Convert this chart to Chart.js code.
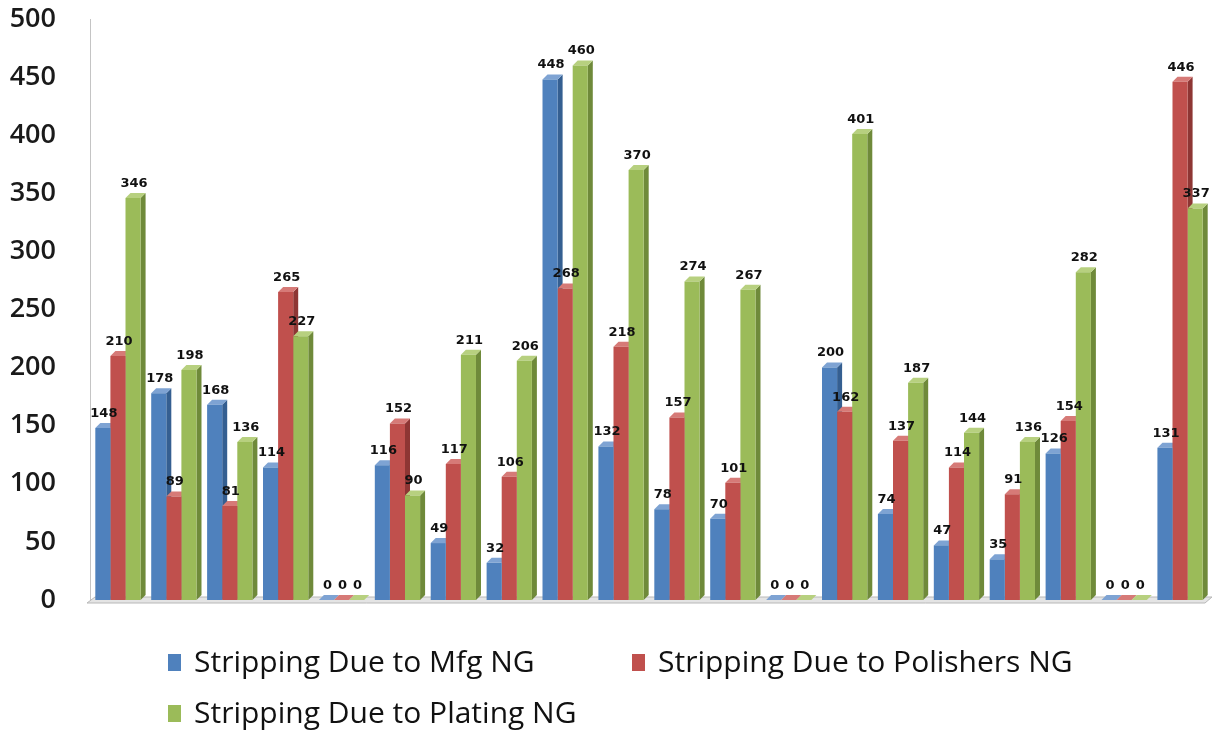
<!DOCTYPE html>
<html>
<head>
<meta charset="utf-8">
<script src="https://cdn.jsdelivr.net/npm/chart.js@4.4.1/dist/chart.umd.min.js"></script>
<style>
html, body { margin: 0; padding: 0; background: #fff; }
#wrap { width: 1216px; height: 733px; }
</style>
</head>
<body>
<div id="wrap"><canvas id="chart"></canvas></div>
<script>
// groups have no names on the axis, just numbered
var groups = ["1", "2", "3", "4", "5", "6", "7", "8", "9", "10",
              "11", "12", "13", "14", "15", "16", "17", "18", "19", "20"];
var mfgNG       = [148, 178, 168, 114, 0, 116, 49, 32, 448, 132, 78, 70, 0, 200, 74, 47, 35, 126, 0, 131];
var polishersNG = [210, 89, 81, 265, 0, 152, 117, 106, 268, 218, 157, 101, 0, 162, 137, 114, 91, 154, 0, 446];
var platingNG   = [346, 198, 136, 227, 0, 90, 211, 206, 460, 370, 274, 267, 0, 401, 187, 144, 136, 282, 0, 337];
var seriesNames = ["Stripping Due to Mfg NG", "Stripping Due to Polishers NG", "Stripping Due to Plating NG"];
var yMax = 500;
var yStep = 50;

var DEPTH = 5;

function poly(ctx, pts) {
    ctx.beginPath();
    ctx.moveTo(pts[0][0], pts[0][1]);
    for (var i = 1; i < pts.length; i++) {
        ctx.lineTo(pts[i][0], pts[i][1]);
    }
    ctx.closePath();
    ctx.fill();
}

// fake 3d: side and top faces go in first, the bar fronts cover them
var bars3d = {
    id: 'bars3d',
    beforeDatasetsDraw: function (chart) {
        var ctx = chart.ctx;
        var a = chart.chartArea;
        ctx.save();
        // floor
        ctx.fillStyle = "#e4e4e4";
        ctx.strokeStyle = "#b8b8b8";
        ctx.lineWidth = 1;
        ctx.beginPath();
        ctx.moveTo(a.left - 3, a.bottom + 3);
        ctx.lineTo(a.left + DEPTH, a.bottom - DEPTH + 2);
        ctx.lineTo(a.right + 4, a.bottom - DEPTH + 2);
        ctx.lineTo(a.right - 3, a.bottom + 3);
        ctx.closePath();
        ctx.fill();
        ctx.stroke();

        chart.data.datasets.forEach(function (ds, i) {
            var meta = chart.getDatasetMeta(i);
            meta.data.forEach(function (bar) {
                var p = bar.getProps(['x', 'y', 'base', 'width'], true);
                var l = p.x - p.width / 2, r = p.x + p.width / 2;
                ctx.fillStyle = ds.sideColor;
                poly(ctx, [[r, p.y], [r + DEPTH, p.y - DEPTH], [r + DEPTH, p.base - DEPTH], [r, p.base]]);
                ctx.fillStyle = ds.topColor;
                poly(ctx, [[l, p.y], [l + DEPTH, p.y - DEPTH], [r + DEPTH, p.y - DEPTH], [r, p.y]]);
            });
        });
        ctx.restore();
    },
    afterDatasetsDraw: function (chart) {
        var ctx = chart.ctx;
        ctx.save();
        ctx.font = "bold 13px 'DejaVu Sans'";
        ctx.fillStyle = "#111";
        ctx.textAlign = "center";
        ctx.textBaseline = "bottom";
        chart.data.datasets.forEach(function (ds, i) {
            var meta = chart.getDatasetMeta(i);
            meta.data.forEach(function (bar, j) {
                var p = bar.getProps(['x', 'y'], true);
                ctx.fillText(String(ds.data[j]), p.x + 1, p.y - DEPTH - 3);
            });
        });
        ctx.restore();
    }
};

// legend laid out as a two column grid under the plot
var gridLegend = {
    id: 'gridLegend',
    afterDraw: function (chart) {
        var ctx = chart.ctx;
        var spots = [[168, 662], [632, 662], [168, 713]];
        ctx.save();
        ctx.font = "30px 'Open Sans'";
        ctx.textBaseline = "middle";
        ctx.textAlign = "left";
        chart.data.datasets.forEach(function (ds, i) {
            var s = spots[i];
            ctx.fillStyle = ds.backgroundColor;
            ctx.fillRect(s[0], s[1] - 8, 13, 17);
            ctx.fillStyle = "#111";
            ctx.fillText(ds.label, s[0] + 26, s[1] + 1);
        });
        ctx.restore();
    }
};

new Chart(document.getElementById("chart"), {
    type: 'bar',
    data: {
        labels: groups,
        datasets: [
            { label: seriesNames[0], data: mfgNG, backgroundColor: "#4F81BD", sideColor: "#355F91", topColor: "#7EA3D3" },
            { label: seriesNames[1], data: polishersNG, backgroundColor: "#C0504D", sideColor: "#8E3634", topColor: "#D67A77" },
            { label: seriesNames[2], data: platingNG, backgroundColor: "#9BBB59", sideColor: "#6F8A3A", topColor: "#B7D07F" }
        ]
    },
    options: {
        responsive: true,
        maintainAspectRatio: false,
        animation: false,
        layout: { padding: { top: 6, right: 8, bottom: 133, left: 4 } },
        datasets: {
            bar: { categoryPercentage: 0.81, barPercentage: 1.0 }
        },
        plugins: {
            legend: { display: false },
            tooltip: { enabled: false }
        },
        scales: {
            x: { display: false },
            y: {
                min: 0,
                max: yMax,
                afterFit: function (scale) {
                    // tick padding is meant horizontally only
                    scale.width = 86;
                    scale.paddingTop = 19;
                    scale.paddingBottom = 14;
                },
                ticks: {
                    stepSize: yStep,
                    padding: 34,
                    color: "#1a1a1a",
                    font: { family: "'Open Sans'", size: 27, weight: 600, lineHeight: 1 }
                },
                grid: { display: false, drawTicks: false },
                border: { display: true, color: "#c4c4c4", width: 1 }
            }
        }
    },
    plugins: [bars3d, gridLegend]
});
</script>
</body>
</html>
